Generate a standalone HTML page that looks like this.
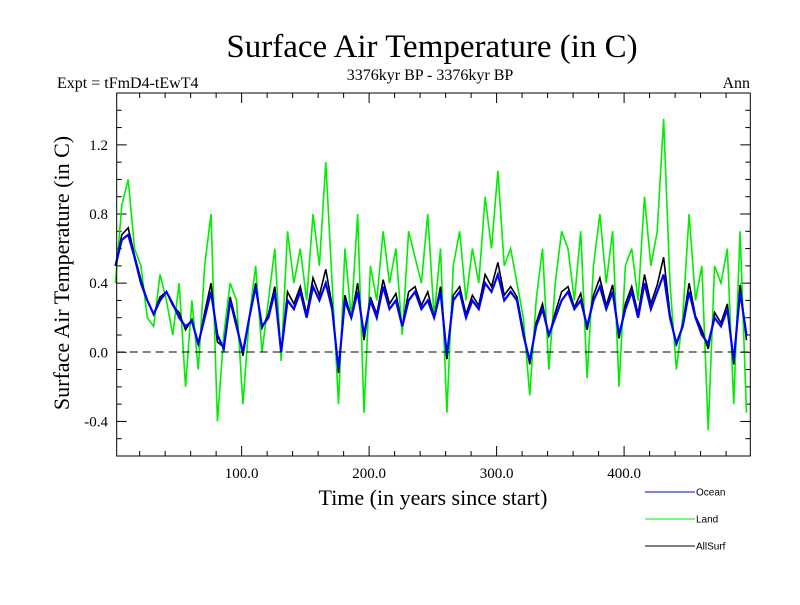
<!DOCTYPE html>
<html><head><meta charset="utf-8"><style>
body{margin:0;background:#fff;}
svg text{font-family:"Liberation Serif",serif;}
</style></head><body>
<svg id="chart" width="800" height="600">
<text x="432" y="57" font-size="33" text-anchor="middle">Surface Air Temperature (in C)</text>
<text x="430" y="80" font-size="16" text-anchor="middle">3376kyr BP - 3376kyr BP</text>
<text x="57" y="88" font-size="16">Expt = tFmD4-tEwT4</text>
<text x="750" y="88" font-size="16" text-anchor="end">Ann</text>
<text x="433" y="505" font-size="22" text-anchor="middle">Time (in years since start)</text>
<text transform="translate(69,273) rotate(-90)" font-size="22" text-anchor="middle">Surface Air Temperature (in C)</text>
<g id="ticks"></g>
<g id="series"></g>
<line x1="116.7" y1="352" x2="750.3" y2="352" stroke="#000" stroke-dasharray="8,5"/>
<rect x="116.7" y="93" width="633.6" height="363" fill="none" stroke="#000"/>
<g font-size="10">
<line x1="645" y1="492" x2="695" y2="492" stroke="#0000ff"/>
<text x="696" y="495.5" style="font-family:'Liberation Sans',sans-serif">Ocean</text>
<line x1="645" y1="519" x2="695" y2="519" stroke="#00ee00"/>
<text x="696" y="522.5" style="font-family:'Liberation Sans',sans-serif">Land</text>
<line x1="645" y1="546" x2="695" y2="546" stroke="#000"/>
<text x="696" y="549.5" style="font-family:'Liberation Sans',sans-serif">AllSurf</text>
</g>
</svg>
<script>
const years = [];
for (let i = 0; i < 100; i++) years.push(1 + 5 * i);
const ocean = [0.5,0.65,0.68,0.55,0.4,0.3,0.22,0.3,0.35,0.28,0.2,0.15,0.18,0.05,0.2,0.35,0.1,0.02,0.3,0.15,0.0,0.2,0.38,0.15,0.2,0.35,0.0,0.3,0.25,0.35,0.2,0.38,0.3,0.4,0.25,-0.1,0.3,0.2,0.35,0.1,0.3,0.2,0.38,0.25,0.3,0.15,0.3,0.35,0.25,0.3,0.2,0.35,-0.02,0.3,0.35,0.2,0.3,0.25,0.4,0.35,0.45,0.3,0.35,0.3,0.1,-0.05,0.15,0.25,0.1,0.2,0.3,0.35,0.25,0.3,0.15,0.3,0.38,0.25,0.35,0.1,0.25,0.35,0.2,0.4,0.25,0.35,0.45,0.2,0.05,0.15,0.35,0.2,0.1,0.05,0.2,0.15,0.25,-0.05,0.35,0.1];
const land = [0.4,0.85,1.0,0.6,0.5,0.2,0.15,0.45,0.3,0.1,0.4,-0.2,0.3,-0.1,0.5,0.8,-0.4,0.1,0.4,0.3,-0.3,0.2,0.5,0.0,0.3,0.6,-0.05,0.7,0.4,0.6,0.3,0.8,0.5,1.1,0.4,-0.3,0.6,0.2,0.8,-0.35,0.5,0.3,0.7,0.4,0.6,0.1,0.7,0.55,0.4,0.8,0.2,0.6,-0.35,0.5,0.7,0.3,0.6,0.4,0.9,0.6,1.05,0.5,0.6,0.4,0.2,-0.25,0.3,0.6,-0.1,0.4,0.7,0.6,0.3,0.7,-0.15,0.5,0.8,0.4,0.7,-0.2,0.5,0.6,0.3,0.9,0.5,0.7,1.35,0.4,-0.1,0.2,0.8,0.3,0.5,-0.45,0.5,0.4,0.6,-0.3,0.7,-0.35];
const allsurf = [0.5,0.68,0.72,0.56,0.42,0.3,0.22,0.32,0.35,0.27,0.23,0.13,0.19,0.04,0.23,0.4,0.06,0.03,0.32,0.17,-0.02,0.2,0.4,0.14,0.22,0.38,0.0,0.35,0.28,0.38,0.22,0.43,0.33,0.48,0.27,-0.12,0.33,0.2,0.4,0.07,0.32,0.22,0.42,0.28,0.34,0.15,0.35,0.38,0.27,0.35,0.2,0.38,-0.04,0.33,0.38,0.22,0.33,0.27,0.45,0.38,0.52,0.33,0.38,0.32,0.12,-0.07,0.17,0.28,0.09,0.23,0.35,0.38,0.26,0.34,0.13,0.33,0.43,0.27,0.39,0.08,0.28,0.38,0.22,0.45,0.28,0.39,0.55,0.22,0.04,0.16,0.4,0.21,0.13,0.02,0.23,0.17,0.28,-0.07,0.39,0.07];
const xTickLabels = [100, 200, 300, 400];
const yTickLabels = [-0.4, 0.0, 0.4, 0.8, 1.2];

const X0 = 116.7, X1 = 750.3, Y0 = 456, Y1 = 93;
const xMin = 2, xMax = 499, yMin = -0.6, yMax = 1.5;
const xs = v => X0 + (v - xMin) / (xMax - xMin) * (X1 - X0);
const ys = v => Y0 - (v - yMin) / (yMax - yMin) * (Y0 - Y1);
const NS = 'http://www.w3.org/2000/svg';
const ticks = document.getElementById('ticks');
function line(g, x1, y1, x2, y2, stroke, w) {
  const l = document.createElementNS(NS, 'line');
  l.setAttribute('x1', x1); l.setAttribute('y1', y1);
  l.setAttribute('x2', x2); l.setAttribute('y2', y2);
  l.setAttribute('stroke', stroke); l.setAttribute('stroke-width', w);
  g.appendChild(l);
  return l;
}
for (let v = 20; v < xMax; v += 20) {
  const major = v % 100 === 0;
  const len = major ? 10 : 5;
  const x = xs(v);
  const t1 = line(ticks, x, Y0, x, Y0 - len, '#000', 1);
  
  
  const t2 = line(ticks, x, Y1, x, Y1 + len, '#000', 1);
  
  
}
for (let k = -5; k <= 14; k++) {
  const v = k / 10;
  const major = k % 4 === 0;
  const len = major ? 10 : 5;
  const y = ys(v);
  const t1 = line(ticks, X0, y, X0 + len, y, '#000', 1);
  
  
  const t2 = line(ticks, X1, y, X1 - len, y, '#000', 1);
  
  
}
xTickLabels.forEach(v => {
  const t = document.createElementNS(NS, 'text');
  t.setAttribute('x', xs(v)); t.setAttribute('y', 478);
  t.setAttribute('font-size', '15'); t.setAttribute('text-anchor', 'middle');
  t.textContent = v.toFixed(1);
  
  
  ticks.appendChild(t);
});
yTickLabels.forEach(v => {
  const t = document.createElementNS(NS, 'text');
  t.setAttribute('x', 108); t.setAttribute('y', ys(v) + 5);
  t.setAttribute('font-size', '15'); t.setAttribute('text-anchor', 'end');
  t.textContent = v.toFixed(1);
  
  
  ticks.appendChild(t);
});
const sg = document.getElementById('series');
function drawSeries(vals, color, w, name) {
  const p = document.createElementNS(NS, 'polyline');
  p.setAttribute('points', vals.map((v, i) => xs(years[i]) + ',' + ys(v)).join(' '));
  p.setAttribute('fill', 'none');
  p.setAttribute('stroke', color);
  p.setAttribute('stroke-width', w);
  
  
  sg.appendChild(p);
}
drawSeries(land, '#00ee00', 1.6, 'land-series');
drawSeries(allsurf, '#000000', 1.6, 'allsurf-series');
drawSeries(ocean, '#0000ff', 2.2, 'ocean-series');
</script>
</body></html>
